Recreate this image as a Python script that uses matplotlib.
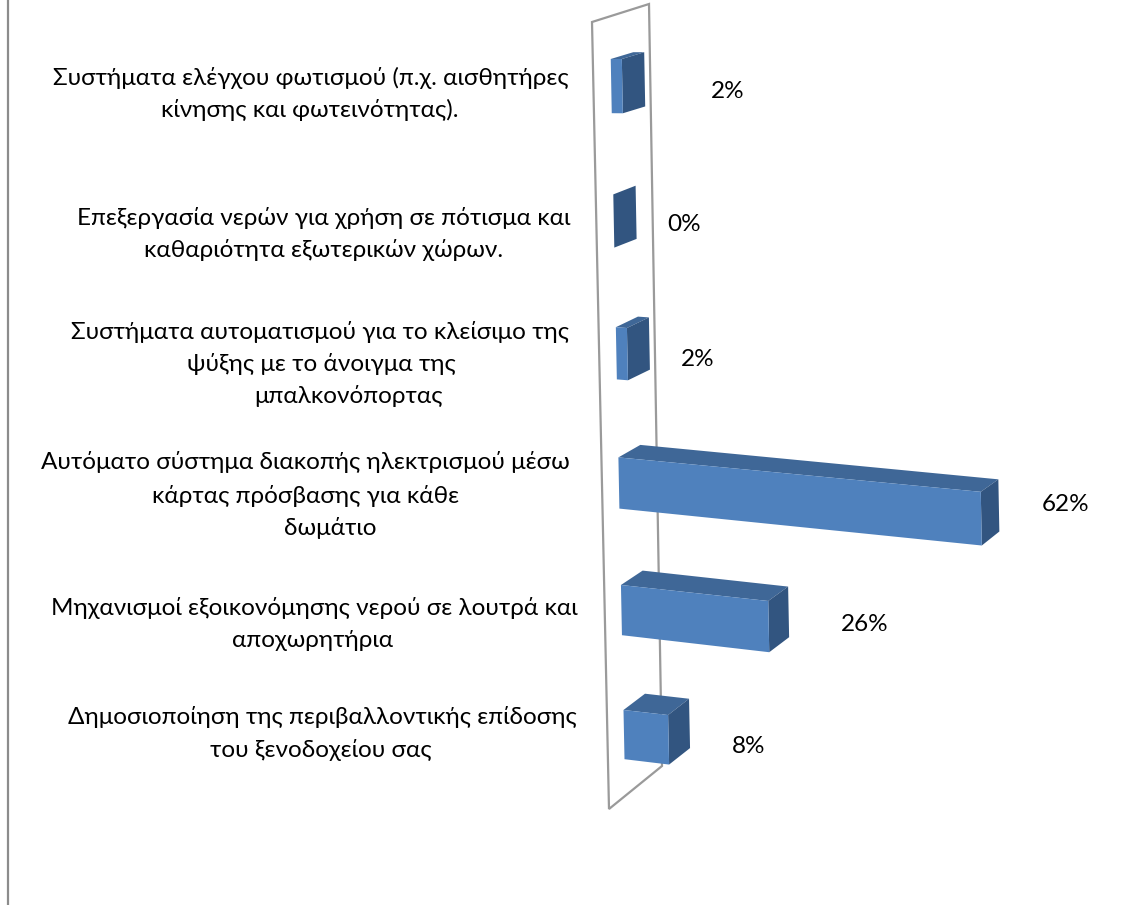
import matplotlib
matplotlib.use("Agg")
import matplotlib.pyplot as plt
from matplotlib.patches import Polygon

plt.rcParams["font.family"] = ["Lato", "Open Sans", "DejaVu Sans"]

# ── Data ──────────────────────────────────────────────────────────────────────

# bottom to top, same order as the chart's category axis
categories = [
    ["Δημοσιοποίηση της περιβαλλοντικής επίδοσης", "του ξενοδοχείου σας"],
    ["Μηχανισμοί εξοικονόμησης νερού σε λουτρά και", "αποχωρητήρια"],
    ["Αυτόματο σύστημα διακοπής ηλεκτρισμού μέσω", "κάρτας πρόσβασης για κάθε", "δωμάτιο"],
    ["Συστήματα αυτοματισμού για το κλείσιμο της", "ψύξης με το άνοιγμα της", "μπαλκονόπορτας"],
    ["Επεξεργασία νερών για χρήση σε πότισμα και", "καθαριότητα εξωτερικών χώρων."],
    ["Συστήματα ελέγχου φωτισμού (π.χ. αισθητήρες", "κίνησης και φωτεινότητας)."],
]
values = [8, 26, 62, 2, 0, 2]

# ── Layout (pixels of the 1147x905 canvas) ────────────────────────────────────

FRONT = "#4F81BD"
TOP = "#3F6797"
SIDE = "#325580"
WALL = "#9A9A9A"
TEXT_SIZE = 17.5

label_x = [[322, 321], [314, 313], [305, 306, 330], [320, 321, 348], [324, 324], [311, 310]]
label_y = [[717, 750], [608, 640], [462, 496, 528], [332, 364, 396], [218, 250], [78, 110]]
value_pos = [(749, 746), (865, 624), (1066, 504), (698, 359), (684, 224), (728, 92)]
wall_outline = [(609, 809), (592, 22), (649, 4), (662, 766)]


def project(v, c, depth=0.0, low=False):
    """Map value v, category c, depth 0..1 to canvas pixels (approx. perspective)."""
    width = 5.535 * v + 0.005 * v ** 2
    x = 623.5 - 2.55 * c + width
    y = 710 - 123.7 * c - 1.3 * c ** 2 + (0.113 - 0.0045 * c ** 2) * width
    if low:
        x += 1
        y += 49.2 + c + 0.04 * v - 1.5 * depth * v / 62
    x += depth * (21.5 + 0.2 * c - 0.07 * v)
    y += depth * (-16.3 + 1.9 * c)
    return x, y


# ── Plot ──────────────────────────────────────────────────────────────────────

fig = plt.figure(figsize=(11.47, 9.05), dpi=100)
ax = fig.add_axes([0, 0, 1, 1])
ax.set_xlim(0, 1147)
ax.set_ylim(905, 0)
ax.axis("off")

ax.plot([8, 8], [0, 905], color="#8C8C8C", lw=1.6, solid_capstyle="butt")
ax.add_patch(Polygon(wall_outline, closed=True, fill=False, ec=WALL, lw=1.6, joinstyle="miter"))

for c, v in enumerate(values):
    top = [project(0, c), project(v, c), project(v, c, 1), project(0, c, 1)]
    side = [project(v, c), project(v, c, 1), project(v, c, 1, True), project(v, c, 0, True)]
    front = [project(0, c), project(v, c), project(v, c, 0, True), project(0, c, 0, True)]
    ax.add_patch(Polygon(top, closed=True, fc=TOP, ec="none", zorder=3))
    ax.add_patch(Polygon(side, closed=True, fc=SIDE, ec="none", zorder=3))
    if v > 0:
        ax.add_patch(Polygon(front, closed=True, fc=FRONT, ec="none", zorder=3))

    for line, x, y in zip(categories[c], label_x[c], label_y[c]):
        ax.text(x, y, line, ha="center", va="center", fontsize=TEXT_SIZE, color="black")
    ax.text(*value_pos[c], f"{v}%", ha="center", va="center", fontsize=TEXT_SIZE, color="black")

fig.savefig("out.png", dpi=100)
plt.close(fig)
